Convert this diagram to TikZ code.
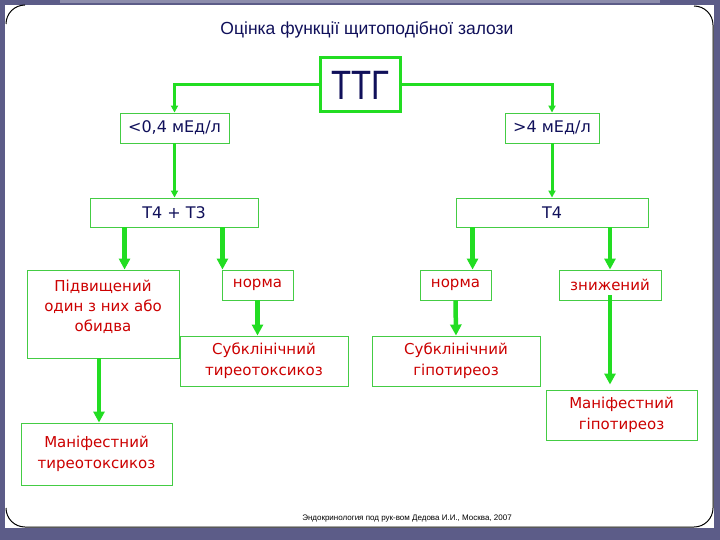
\documentclass[tikz,border=0pt]{standalone}
\usepackage{fontspec}
\setmainfont{DejaVu Sans}
\newfontfamily\arialfont{Liberation Sans}
\usetikzlibrary{arrows.meta, positioning}
\definecolor{cGreen}{HTML}{22DD22}
\definecolor{cLine}{HTML}{44CC44}
\definecolor{cNavy}{HTML}{10105A}
\definecolor{cRed}{HTML}{CC0000}
\definecolor{cFrame}{HTML}{5C5C88}

\begin{document}
\begin{tikzpicture}[x=1pt, y=-1pt,
  box/.style={rectangle, draw=cLine, line width=0.9pt, fill=white, align=center,
              inner sep=2pt, font=\fontsize{15}{21}\selectfont},
  navybox/.style={box, text=cNavy, font=\fontsize{16}{20}\selectfont},
  redbox/.style={box, text=cRed},
  arr/.style={-{Triangle[length=11pt, width=11pt]}, line width=4.5pt, color=cGreen},
  thinarr/.style={-{Triangle[length=7pt, width=7pt]}, line width=3pt, color=cGreen},
]
\useasboundingbox (0,0) rectangle (720,540);

% ---- slide frame ----
\fill[cFrame] (0,0) rectangle (720,540);
\fill[cFrame!70!white] (60,0) rectangle (660,3);
\fill[white] (5,5) rectangle (714,528);
\draw[black, line width=1pt] (6,24) arc[start angle=180, end angle=270, radius=19];
\draw[black, line width=1pt] (694,6) arc[start angle=270, end angle=360, radius=19]
  -- (713,508) arc[start angle=0, end angle=90, radius=19] -- (25,527)
  arc[start angle=90, end angle=180, radius=19];

% ---- title ----
\node[font=\arialfont\fontsize{17.5}{20}\selectfont, text=cNavy] (title) at (367,30)
  {Оцінка функції щитоподібної залози};

% ---- TSH ----
\node[navybox, draw=cGreen, line width=3pt, minimum width=80, minimum height=54,
      font=\arialfont\fontsize{41}{44}\selectfont] (ttg) at (360,85) {\scalebox{0.8}[1]{ТТГ}};

% ---- level 1 ----
\node[navybox, minimum width=109, minimum height=30] (lo) at (174.5,128) {<0,4 мЕд/л};
\node[navybox, minimum width=94, minimum height=30] (hi) at (552,128) {>4 мЕд/л};
\draw[thinarr] (ttg.west) -| (lo.north);
\draw[thinarr] (ttg.east) -| (hi.north);

% ---- level 2 ----
\node[navybox, minimum width=168, minimum height=29] (t43) at (174,212.5) {Т4 + Т3};
\node[navybox, minimum width=192, minimum height=29] (t4) at (552,212.5) {Т4};
\draw[thinarr] (lo.south) -- (lo.south |- t43.north);
\draw[thinarr] (hi.south) -- (hi.south |- t4.north);

% ---- left branch ----
\node[redbox, minimum width=152, minimum height=88] (up) at (103,314) {};
\node[text=cRed, align=center, anchor=north, font=\fontsize{15}{20}\selectfont]
  (uptxt) at ([yshift=-7pt]up.north) {Підвищений\\один з них або\\обидва};
\node[redbox, minimum width=71, minimum height=30] (nl) at (257.5,285) {норма};
\node[redbox, minimum width=168, minimum height=50] (sub1) at (264,361)
  {Субклінічний\\тиреотоксикоз};
\node[redbox, minimum width=151, minimum height=62] (man1) at (96.5,454)
  {Маніфестний\\тиреотоксикоз};
\draw[arr] ([xshift=35pt]t43.south west) -- ([xshift=35pt]t43.south west |- up.north);
\draw[arr] ([xshift=-36pt]t43.south east) -- ([xshift=-36pt]t43.south east |- nl.north);
\draw[arr] (nl.south) -- (nl.south |- sub1.north);
\draw[arr] ([xshift=-4pt]up.south) -- ([xshift=-4pt]up.south |- man1.north);

% ---- right branch ----
\node[redbox, minimum width=71, minimum height=30] (nr) at (455.5,285) {норма};
\node[redbox, minimum width=102, minimum height=30] (low) at (610,285) {знижений};
\node[redbox, minimum width=168, minimum height=50] (sub2) at (456,361)
  {Субклінічний\\гіпотиреоз};
\node[redbox, minimum width=151, minimum height=50] (man2) at (621.5,415)
  {Маніфестний\\гіпотиреоз};
\draw[arr] ([xshift=17pt]t4.south west) -- ([xshift=17pt]t4.south west |- nr.north);
\draw[arr] (t4.south -| low) -- (low.north);
\draw[arr] (nr.south) -- (sub2.north);
\draw[arr] ([yshift=5pt]low.south) -- ([yshift=5pt]low.south |- man2.north);

% ---- source ----
\node[font=\arialfont\fontsize{8}{9}\selectfont] (src) at (407,519)
  {Эндокринология под рук-вом Дедова И.И., Москва, 2007};

\end{tikzpicture}
\end{document}
